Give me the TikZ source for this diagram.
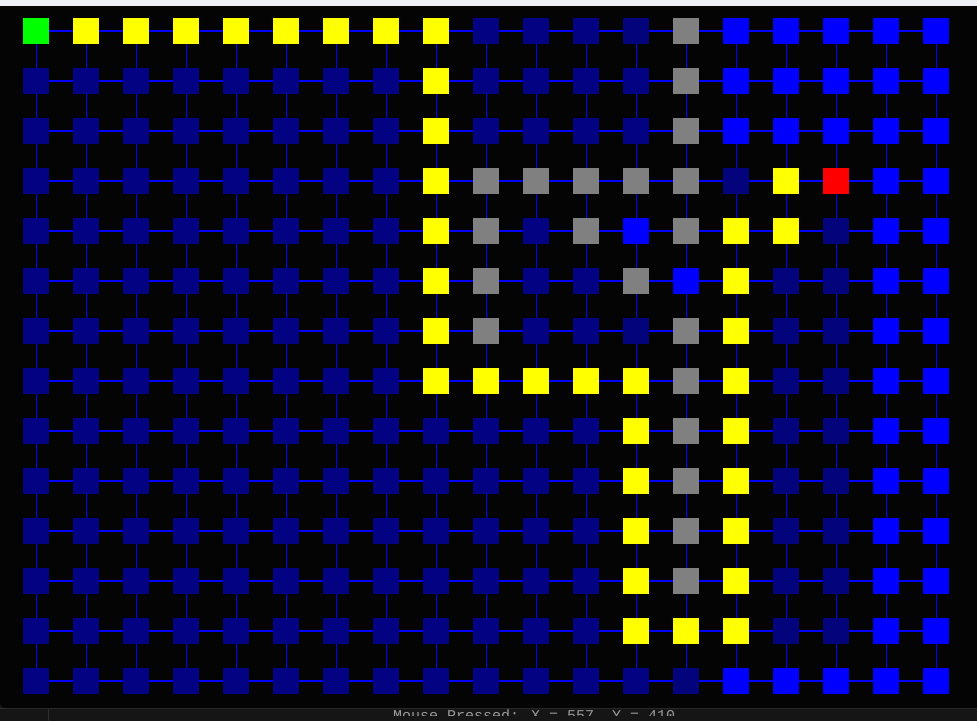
\documentclass[tikz,border=0pt]{standalone}
\usepackage{fontspec}
\newfontfamily\statusfont{Liberation Mono}
\definecolor{cG}{HTML}{00FF00}
\definecolor{cY}{HTML}{FFFF00}
\definecolor{cN}{HTML}{020283}
\definecolor{cD}{HTML}{03037C}
\definecolor{cA}{HTML}{808080}
\definecolor{cB}{HTML}{0000FF}
\definecolor{cR}{HTML}{FF0000}
\definecolor{topbar}{HTML}{EEF2F6}
\definecolor{canvas}{HTML}{040404}
\definecolor{strip}{HTML}{151515}
\definecolor{stripline}{HTML}{2E2E2E}
\definecolor{statustext}{HTML}{9A9A9A}
\pgfdeclarelayer{bg}
\pgfdeclarelayer{wires}
\pgfsetlayers{bg,wires,main}
\tikzset{
  cell/.style={minimum size=26pt, inner sep=0pt, outer sep=0pt, draw=none, rectangle},
  hwire/.style={draw=cB, line width=1.3pt},
  vwire/.style={draw=cB, line width=0.7pt},
}
\begin{document}
\begin{tikzpicture}[x=1pt,y=-1pt]
\useasboundingbox (0,0) rectangle (977,721);
\begin{pgfonlayer}{bg}
  \fill[strip] (0,0) rectangle (977,721);
  \fill[topbar] (0,0) rectangle (977,6);
  \draw[stripline, line width=1pt] (0,708.5) -- (977,708.5);
  \draw[stripline, line width=1pt] (48.5,709) -- (48.5,721);
  \fill[canvas] (0,6) -- (977,6) -- (977,708) -- (6,708) arc[start angle=90, end angle=180, radius=6] -- cycle;
  \begin{scope}
    \clip (0,709) rectangle (977,715);
    \node[anchor=base west, inner sep=0pt, text=statustext, font=\statusfont\fontsize{15}{15}\selectfont] (status) at (393,720) {Mouse Pressed: X = 557, Y = 410};
  \end{scope}
\end{pgfonlayer}
\foreach \r/\s in {
  0/{G,Y,Y,Y,Y,Y,Y,Y,Y,N,N,N,D,A,B,B,B,B,B},
  1/{N,N,N,N,N,N,N,N,Y,N,N,N,N,A,B,B,B,B,B},
  2/{N,N,N,N,N,N,N,N,Y,N,N,N,N,A,B,B,B,B,B},
  3/{N,N,N,N,N,N,N,N,Y,A,A,A,A,A,D,Y,R,B,B},
  4/{N,N,N,N,N,N,N,N,Y,A,N,A,B,A,Y,Y,D,B,B},
  5/{N,N,N,N,N,N,N,N,Y,A,N,N,A,B,Y,D,D,B,B},
  6/{N,N,N,N,N,N,N,N,Y,A,N,N,D,A,Y,D,D,B,B},
  7/{N,N,N,N,N,N,N,N,Y,Y,Y,Y,Y,A,Y,D,D,B,B},
  8/{N,N,N,N,N,N,N,N,N,N,N,N,Y,A,Y,D,D,B,B},
  9/{N,N,N,N,N,N,N,N,N,N,N,N,Y,A,Y,D,D,B,B},
  10/{N,N,N,N,N,N,N,N,N,N,N,N,Y,A,Y,D,D,B,B},
  11/{N,N,N,N,N,N,N,N,N,N,N,N,Y,A,Y,D,D,B,B},
  12/{N,N,N,N,N,N,N,N,N,N,N,N,Y,Y,Y,D,D,B,B},
  13/{N,N,N,N,N,N,N,N,N,N,N,N,N,D,B,B,B,B,B}}{
  \foreach \k [count=\c from 0] in \s {
    \node[cell, fill=c\k] (n-\r-\c) at ({36+50*\c},{31+50*\r}) {};
  }
}
\begin{pgfonlayer}{wires}
  \foreach \r in {0,...,13}{
    \foreach \c [evaluate=\c as \cn using int(\c+1)] in {0,...,17}{
      \draw[hwire] (n-\r-\c.center) -- (n-\r-\cn.center);
    }
  }
  \foreach \c in {0,...,18}{
    \foreach \r [evaluate=\r as \rn using int(\r+1)] in {0,...,12}{
      \draw[vwire] (n-\r-\c.center) -- (n-\rn-\c.center);
    }
  }
\end{pgfonlayer}
\end{tikzpicture}
\end{document}
